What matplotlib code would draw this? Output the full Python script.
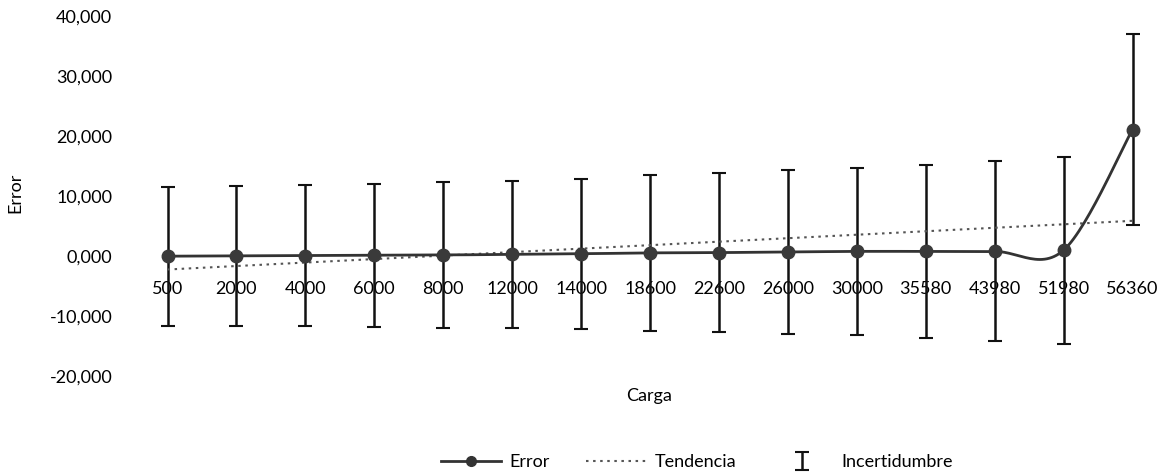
import matplotlib
matplotlib.use('Agg')
import matplotlib.pyplot as plt
import numpy as np

plt.rcParams['font.family'] = ['Lato', 'DejaVu Sans']

# Cargas (categorias del eje x)
cargas = ['500', '2000', '4000', '6000', '8000', '12000', '14000', '18600',
          '22600', '26000', '30000', '35580', '43980', '51980', '56360']

# Error medido en cada carga
error = [0.0, 0.05, 0.1, 0.15, 0.2, 0.3, 0.4, 0.55, 0.6, 0.7, 0.8, 0.8, 0.8, 1.0, 21.1]

# Incertidumbre (semiamplitud de la barra)
incert = [11.6, 11.7, 11.75, 11.9, 12.2, 12.3, 12.5, 13.0, 13.3, 13.6, 13.9,
          14.4, 15.0, 15.6, 15.9]

y_ticks = [-20, -10, 0, 10, 20, 30, 40]


def smooth(xs, ys, n=30):
    # curva suavizada tipo Excel (Bezier con puntos de control Catmull-Rom)
    xs = np.asarray(xs, float)
    ys = np.asarray(ys, float)
    px = np.concatenate([[xs[0]], xs, [xs[-1]]])
    py = np.concatenate([[ys[0]], ys, [ys[-1]]])
    ox, oy = [], []
    t = np.linspace(0, 1, n)
    for i in range(1, len(px) - 2):
        p0 = np.array([px[i], py[i]])
        p3 = np.array([px[i + 1], py[i + 1]])
        p1 = p0 + (np.array([px[i + 1], py[i + 1]]) - np.array([px[i - 1], py[i - 1]])) / 6
        p2 = p3 - (np.array([px[i + 2], py[i + 2]]) - np.array([px[i], py[i]])) / 6
        b = ((1 - t) ** 3)[:, None] * p0 + (3 * (1 - t) ** 2 * t)[:, None] * p1 \
            + (3 * (1 - t) * t ** 2)[:, None] * p2 + (t ** 3)[:, None] * p3
        ox.extend(b[:, 0])
        oy.extend(b[:, 1])
    return ox, oy


x = np.arange(len(cargas))

fig = plt.figure(figsize=(11.67, 4.75), dpi=100)
ax = fig.add_axes([0.114, 0.208, 0.886, 0.758])
ax.spines['bottom'].set_position(('data', 0))

eb = ax.errorbar(x, error, yerr=incert, fmt='none', ecolor='#111111',
                 elinewidth=1.8, capsize=5, capthick=1.5, label='Incertidumbre', zorder=2)

# linea de tendencia lineal
m, b0 = np.polyfit(x + 1, error, 1)
h_tend, = ax.plot(x, m * (x + 1) + b0, linestyle=(0, (1.2, 2.2)), color='#555555', lw=1.5,
                  label='Tendencia', zorder=3)

sx, sy = smooth(x, error)
ax.plot(sx, sy, color='#333333', lw=2, zorder=4)
ax.plot(x, error, linestyle='none', marker='o', ms=9, color='#3a3a3a', zorder=5)
h_err, = ax.plot([], [], color='#333333', lw=2, marker='o', ms=7, label='Error')

ax.set_xlim(-0.5, len(cargas) - 0.5)
ax.set_ylim(-20, 40)
ax.set_yticks(y_ticks)
ax.set_yticklabels([f"{v:.3f}".replace('.', ',') for v in y_ticks], fontsize=13)
ax.set_xticks(x)
ax.set_xticklabels(cargas, fontsize=13)
for s in ax.spines.values():
    s.set_visible(False)
ax.tick_params(axis='both', length=0)
ax.tick_params(axis='x', pad=18)
ax.tick_params(axis='y', pad=15)

fig.text(0.556, 0.166, 'Carga', fontsize=13, ha='center', va='center')
fig.text(0.013, 0.594, 'Error', fontsize=13, ha='center', va='center', rotation=90)

ax.legend([h_err, h_tend, eb], ['Error', 'Tendencia', 'Incertidumbre'], loc='center',
          bbox_to_anchor=(0.597, 0.027), bbox_transform=fig.transFigure,
          ncol=3, frameon=False, fontsize=13, handlelength=3.3, columnspacing=2.0,
          handletextpad=0.5)

fig.savefig('out.png', dpi=100)
